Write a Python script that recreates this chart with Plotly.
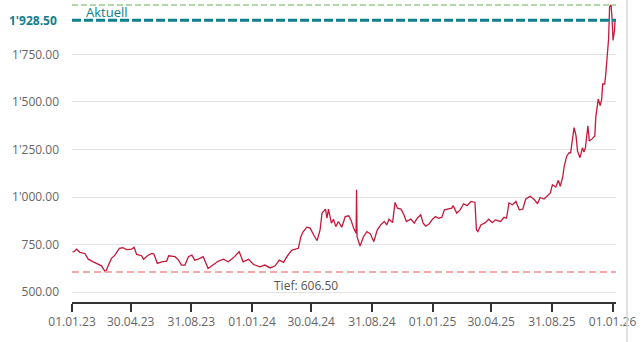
import plotly.graph_objects as go

dates = [
"2023-01-02","2023-01-05","2023-01-10","2023-01-17","2023-01-27","2023-02-03","2023-02-13","2023-02-23",
"2023-03-02","2023-03-05","2023-03-10","2023-03-16","2023-03-22","2023-03-29","2023-04-07","2023-04-14",
"2023-04-22","2023-05-02","2023-05-07","2023-05-12","2023-05-22","2023-05-26","2023-06-03","2023-06-12",
"2023-06-16","2023-06-23","2023-07-02","2023-07-12","2023-07-16","2023-07-29","2023-08-05","2023-08-11",
"2023-08-18","2023-08-25","2023-09-01","2023-09-07","2023-09-14","2023-09-24","2023-10-04","2023-10-15",
"2023-10-25","2023-11-04","2023-11-14","2023-11-24","2023-12-06","2023-12-14","2023-12-25","2024-01-04",
"2024-01-17","2024-01-27","2024-02-07","2024-02-17","2024-02-25","2024-03-05","2024-03-13","2024-03-22",
"2024-03-31","2024-04-04","2024-04-09","2024-04-14","2024-04-21","2024-04-28","2024-05-05","2024-05-12",
"2024-05-18","2024-05-22","2024-05-29","2024-06-01","2024-06-04","2024-06-10","2024-06-14","2024-06-19",
"2024-06-24","2024-07-01","2024-07-08","2024-07-15","2024-07-20","2024-07-25","2024-07-30","2024-07-31",
"2024-08-01","2024-08-07","2024-08-14","2024-08-21","2024-08-28","2024-09-04","2024-09-11","2024-09-18",
"2024-09-25","2024-09-30","2024-10-05","2024-10-12","2024-10-17","2024-10-22","2024-10-29","2024-11-04",
"2024-11-09","2024-11-18","2024-11-25","2024-12-01","2024-12-08","2024-12-13","2024-12-18","2024-12-25",
"2025-01-01","2025-01-07","2025-01-13","2025-01-20","2025-01-25","2025-02-03","2025-02-09","2025-02-12",
"2025-02-19","2025-02-26","2025-03-05","2025-03-12","2025-03-20","2025-03-28","2025-03-31","2025-04-03",
"2025-04-09","2025-04-18","2025-04-25","2025-05-02","2025-05-08","2025-05-19","2025-05-26","2025-05-31",
"2025-06-05","2025-06-12","2025-06-19","2025-06-26","2025-07-03","2025-07-09","2025-07-18","2025-07-26",
"2025-08-02","2025-08-07","2025-08-15","2025-08-22","2025-08-28","2025-09-01","2025-09-08","2025-09-13",
"2025-09-17","2025-09-22","2025-09-25","2025-09-30","2025-10-05","2025-10-08","2025-10-12","2025-10-15",
"2025-10-19","2025-10-22","2025-10-27","2025-11-01","2025-11-04","2025-11-07","2025-11-12","2025-11-15",
"2025-11-21","2025-11-26","2025-11-28","2025-12-01","2025-12-03","2025-12-07","2025-12-10","2025-12-12",
"2025-12-16","2025-12-18","2025-12-21","2025-12-24","2025-12-26","2025-12-29","2025-12-31","2026-01-02",
"2026-01-05","2026-01-06"]

prices = [
712,713,726,710,704,674,660,646,
639,625,606.5,643,678,695,731,734,
724,727,736,699,692,674,692,704,
701,652,660,664,692,687,669,643,
643,687,695,669,674,687,625,646,
664,674,660,681,713,660,673,646,
634,643,628,639,669,657,692,722,
727,731,792,819,842,837,801,771,
828,916,937,889,937,863,884,845,
872,842,898,902,877,837,810,1039,
792,743,792,819,807,766,828,854,
872,854,884,866,972,942,937,907,
872,884,863,889,907,863,847,859,
884,898,889,894,933,939,942,955,
916,933,965,955,977,972,828,819,
854,866,884,866,880,872,894,889,
969,960,977,933,937,990,1004,988,
965,998,990,1007,1022,1065,1053,1088,
1057,1106,1162,1215,1233,1233,1303,1365,
1321,1241,1207,1260,1236,1260,1374,1294,
1307,1321,1420,1470,1515,1480,1515,1594,
1594,1638,1744,1832,2000,2009,1938,1823,
1876,1928.5]

x_tick_vals = ["2023-01-01","2023-04-30","2023-08-31","2024-01-01","2024-04-30",
               "2024-08-31","2025-01-01","2025-04-30","2025-08-31","2026-01-01"]
x_tick_text = ["01.01.23","30.04.23","31.08.23","01.01.24","30.04.24",
               "31.08.24","01.01.25","30.04.25","31.08.25","01.01.26"]
y_tick_vals = [500, 750, 1000, 1250, 1500, 1750]


def fmt(v):
    return f"{v:,.2f}".replace(",", "'")


FONT = "Open Sans"
TEAL = "#127f8e"
LINE = "#c41a3b"
GRAY = "#666666"

current = prices[-1]
low = min(prices)
high = max(prices)

fig = go.Figure()
fig.add_trace(go.Scatter(x=dates, y=prices, mode="lines",
                         line=dict(color=LINE, width=1.3), hoverinfo="skip",
                         showlegend=False))

# reference lines
fig.add_shape(type="line", xref="paper", x0=0, x1=1, yref="y", y0=high, y1=high,
              line=dict(color="#b3d9a9", width=2, dash="6px,3px"))
fig.add_shape(type="line", xref="paper", x0=0, x1=1, yref="y", y0=low, y1=low,
              line=dict(color="#f5a9a8", width=2, dash="7px,4px"))
fig.add_shape(type="line", xref="paper", x0=0, x1=1, yref="y", y0=current, y1=current,
              line=dict(color=TEAL, width=3, dash="9px,3px"))
# right border
fig.add_shape(type="line", xref="paper", x0=1.0203, x1=1.0203, yref="paper", y0=-0.2, y1=1.05,
              line=dict(color="#d9d9d9", width=1.5))

fig.add_annotation(text="Aktuell", xref="paper", x=0.022, xanchor="left",
                   yref="y", y=current, yanchor="bottom", yshift=-3, showarrow=False,
                   font=dict(family=FONT, size=13, color=TEAL))
fig.add_annotation(text="<b>" + fmt(current) + "</b>", xref="paper", x=0, xanchor="right",
                   xshift=-13, yref="y", y=current, yanchor="middle", showarrow=False,
                   font=dict(family=FONT, size=12, color=TEAL))
fig.add_annotation(text="Tief: " + fmt(low), xref="paper", x=0.368, xanchor="left",
                   yref="y", y=low, yanchor="top", yshift=-3, showarrow=False,
                   font=dict(family=FONT, size=12, color="#555555"))

fig.update_layout(
    width=642, height=342,
    margin=dict(l=72, r=26, t=3, b=40),
    paper_bgcolor="white", plot_bgcolor="white",
    font=dict(family=FONT, size=12, color=GRAY),
    showlegend=False,
    xaxis=dict(range=["2023-01-01", "2026-01-08"], tickvals=x_tick_vals, ticktext=x_tick_text,
               showgrid=False, showline=True, linecolor="#333333", linewidth=1.5,
               ticks="outside", ticklen=8, tickwidth=1.5, tickcolor="#333333",
               tickfont=dict(family=FONT, size=12, color=GRAY), zeroline=False),
    yaxis=dict(range=[449, 2019.5], tickvals=y_tick_vals, ticktext=[fmt(v) for v in y_tick_vals],
               showgrid=True, gridcolor="#e3e3e3", gridwidth=1, zeroline=False,
               showline=False, ticks="", ticklabelstandoff=12,
               tickfont=dict(family=FONT, size=12, color=GRAY)),
)

fig.write_html("out.html")
